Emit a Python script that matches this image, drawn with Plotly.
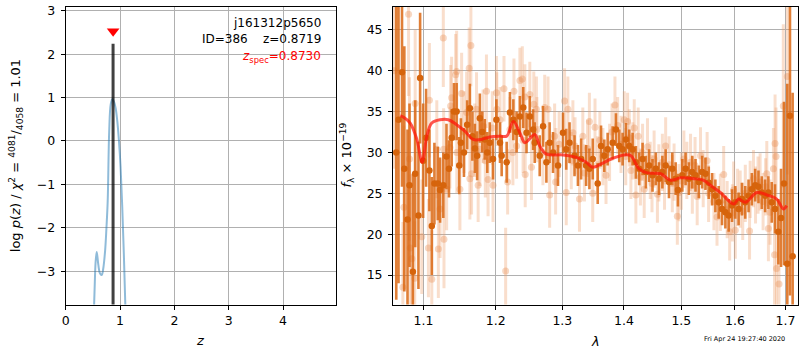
import numpy as np
import plotly.graph_objects as go

# ---------------- left panel: p(z) ----------------
pz_z = [0.52, 0.535, 0.55, 0.571, 0.60, 0.63, 0.663, 0.69, 0.726, 0.75, 0.773, 0.80,
        0.829, 0.86, 0.89, 0.92, 0.95, 0.98, 1.01, 1.04, 1.07, 1.10]
pz_logp = [-3.9, -3.3, -2.8, -2.56, -2.85, -3.05, -3.09, -2.95, -2.52, -2.0, -1.38, 0.2,
           0.85, 0.97, 0.9, 0.75, 0.45, 0.0, -0.6, -1.5, -2.6, -3.9]
z_best = 0.8719
z_best_logp = 2.24
z_spec = 0.8730
z_spec_marker_y = 2.53

# ---------------- right panel: spectrum ----------------
# binned (dark) points
bin_lam = [1.0646, 1.0675, 1.0720, 1.0750, 1.0791, 1.0817, 1.0861, 1.0891, 1.0934, 1.0956,
           1.0996, 1.1035, 1.1079, 1.1111, 1.1146, 1.1191, 1.1222, 1.1266, 1.1309, 1.1343,
           1.1380, 1.1411, 1.1448, 1.1484, 1.1507, 1.1549, 1.1594, 1.1632, 1.1667, 1.1702,
           1.1734, 1.1772, 1.1807, 1.1842, 1.1878, 1.1913, 1.1960, 1.2009, 1.2061, 1.2085,
           1.2158, 1.2206, 1.2256, 1.2304, 1.2353, 1.2403, 1.2452, 1.2501, 1.2551, 1.2575,
           1.2651, 1.2702, 1.2753, 1.2803, 1.2855, 1.2932, 1.3010, 1.3061, 1.3113, 1.3192,
           1.3246, 1.3297, 1.3377, 1.3430, 1.3484, 1.3565, 1.3619, 1.3673, 1.3728, 1.3811,
           1.3866, 1.3921, 1.3977, 1.4033, 1.4089, 1.4146, 1.4202, 1.4259, 1.4317, 1.4374,
           1.4430, 1.4489, 1.4546, 1.4603, 1.4662, 1.4720, 1.4779, 1.4838, 1.4898, 1.4939,
           1.5018, 1.5077, 1.5137, 1.5198, 1.5258, 1.5319, 1.5381, 1.5442, 1.5503, 1.5565,
           1.5627, 1.5689, 1.5753, 1.5816, 1.5879, 1.5943, 1.6006, 1.6070, 1.6134, 1.6198,
           1.6263, 1.6328, 1.6393, 1.6458, 1.6524, 1.6590, 1.6656, 1.6723, 1.6789, 1.6857,
           1.6911, 1.6972, 1.7039, 1.7094, 1.7149]
bin_flux = [30.0, 34.0, 39.8, 28.0, 21.8, 26.0, 15.4, 27.4, 22.3, 39.1,
            29.0, 31.8, 27.8, 21.0, 26.2, 26.2, 25.4, 26.0, 29.5, 28.0,
            31.8, 35.0, 35.0, 28.4, 31.2, 30.0, 33.4, 35.4, 32.0, 30.5,
            29.6, 34.2, 32.5, 31.6, 30.0, 31.2, 29.2, 34.0, 31.2, 29.6,
            28.8, 34.9, 34.0, 32.5, 34.4, 35.5, 32.4, 34.4, 32.8, 31.2,
            29.6, 33.2, 28.8, 31.2, 30.0, 28.4, 32.4, 30.4, 31.2, 29.6,
            28.4, 29.2, 28.4, 28.0, 29.2, 26.2, 30.8, 29.6, 30.4, 31.2,
            32.8, 30.8, 30.4, 31.6, 30.8, 30.4, 28.8, 28.0, 29.2, 27.6,
            28.4, 27.2, 28.0, 26.8, 27.6, 28.4, 26.4, 28.0, 26.8, 25.4,
            27.2, 28.0, 26.8, 27.6, 27.2, 26.4, 27.6, 27.4, 26.3, 25.5,
            24.7, 23.9, 23.1, 22.7, 22.3, 23.5, 23.9, 23.1, 24.3, 23.9,
            24.7, 25.5, 26.0, 25.8, 25.1, 24.7, 25.1, 23.9, 23.1, 20.3,
            22.0, 26.2, 16.4, 34.5, 17.3]
bin_err = [18, 20, 14, 15, 11, 10, 12, 9, 9, 8,
           7, 6, 5, 6, 5, 4.5, 4, 4, 4, 3.5,
           3.5, 3.5, 3.5, 3.5, 3, 3, 3, 3, 3, 3,
           3, 3, 2.5, 2.5, 2.5, 2.5, 2.5, 2.5, 2.5, 2.5,
           2.5, 2.5, 2.5, 2.5, 2.5, 2.5, 2.5, 2.5, 2.5, 2.5,
           2.5, 2.5, 2.5, 2.5, 2.5, 2.5, 2.5, 2.5, 2.5, 2.5,
           2.5, 2.5, 2.5, 2.5, 2.5, 2.5, 2.5, 2, 2, 2,
           2, 2, 2, 2, 2, 2, 2, 2, 2, 2,
           2, 2, 2, 2, 2, 2, 2, 2, 2, 2,
           2, 2, 2, 2, 2, 2, 2, 2, 2, 2,
           2, 2, 2, 2, 2, 2, 2, 2, 2, 2,
           2, 2, 2, 2, 2, 2, 2, 2.5, 3, 4,
           6, 10, 22, 22, 20]

# individual (light) points
raw_lam = [1.0620, 1.0731, 1.0744, 1.0805, 1.0817, 1.0826, 1.0848, 1.0885, 1.0891, 1.0978,
           1.1066, 1.1079, 1.1111, 1.1178, 1.1199, 1.1222, 1.1266, 1.1270, 1.1275, 1.1311,
           1.1356, 1.1365, 1.1379, 1.1434, 1.1448, 1.1450, 1.1493, 1.1517, 1.1550, 1.1586,
           1.1622, 1.1632, 1.1646, 1.1655, 1.1700, 1.1725, 1.1748, 1.1772, 1.1818, 1.1850,
           1.1866, 1.1889, 1.1950, 1.1960, 1.2009, 1.2015, 1.2061, 1.2119, 1.2143, 1.2172,
           1.2206, 1.2250, 1.2265, 1.2304, 1.2353, 1.2389, 1.2400, 1.2427, 1.2432, 1.2501,
           1.2526, 1.2561, 1.2601, 1.2608, 1.2700, 1.2727, 1.2778, 1.2803, 1.2880, 1.2895,
           1.2900, 1.2950, 1.3035, 1.3061, 1.3087, 1.3140, 1.3166, 1.3200, 1.3271, 1.3324,
           1.3350, 1.3400, 1.3430, 1.3484, 1.3521, 1.3560, 1.3600, 1.3650, 1.3701, 1.3760,
           1.3800, 1.3849, 1.3894, 1.3950, 1.4005, 1.4030, 1.4061, 1.4090, 1.4117, 1.4150,
           1.4174, 1.4202, 1.4242, 1.4280, 1.4317, 1.4345, 1.4402, 1.4450, 1.4480, 1.4517,
           1.4575, 1.4600, 1.4662, 1.4700, 1.4720, 1.4780, 1.4838, 1.4870, 1.4928, 1.4957,
           1.5000, 1.5046, 1.5100, 1.5167, 1.5200, 1.5250, 1.5289, 1.5350, 1.5400, 1.5473,
           1.5500, 1.5600, 1.5658, 1.5721, 1.5784, 1.5850, 1.5898, 1.5950, 1.5974, 1.6006,
           1.6050, 1.6101, 1.6150, 1.6200, 1.6283, 1.6295, 1.6360, 1.6400, 1.6450, 1.6491,
           1.6550, 1.6600, 1.6624, 1.6656, 1.6689, 1.6757, 1.6780, 1.6790, 1.6810, 1.6820,
           1.6870, 1.6957, 1.7039]
raw_flux = [40.0, 13.5, 23.3, 46.9, 29.2, 18.3, 17.0, 14.6, 36.0, 19.7,
            18.3, 36.4, 14.5, 30.4, 18.2, 23.1, 44.0, 30.4, 19.4, 25.5,
            30.6, 35.7, 36.7, 39.5, 39.9, 30.0, 25.5, 37.2, 32.5, 34.9,
            40.3, 26.8, 43.1, 27.4, 31.5, 35.3, 26.0, 30.4, 33.2, 29.0,
            37.5, 26.7, 33.0, 26.0, 37.3, 35.3, 34.0, 37.8, 15.5, 26.4,
            32.8, 30.0, 37.5, 30.8, 38.8, 39.0, 31.5, 36.8, 27.3, 37.1,
            28.2, 35.9, 35.3, 32.8, 30.0, 35.5, 35.3, 24.8, 32.0, 26.4,
            29.0, 31.0, 36.3, 25.1, 35.3, 29.0, 32.4, 30.8, 24.3, 32.0,
            27.5, 30.5, 33.8, 25.0, 33.1, 28.5, 31.5, 29.5, 27.2, 30.0,
            32.5, 35.8, 33.3, 31.0, 34.0, 29.5, 33.8, 31.8, 27.8, 30.2,
            33.0, 24.8, 32.0, 27.0, 30.0, 25.5, 30.7, 27.8, 26.2, 29.2,
            24.9, 27.5, 28.8, 26.5, 30.8, 28.5, 26.2, 27.6, 22.2, 25.1,
            26.5, 29.2, 27.8, 28.8, 26.0, 28.4, 24.6, 29.6, 26.8, 29.0,
            25.0, 24.0, 22.1, 23.9, 27.3, 23.0, 20.3, 22.6, 25.4, 20.5,
            24.5, 24.3, 22.8, 25.0, 20.4, 25.5, 26.8, 24.8, 26.0, 26.4,
            24.0, 25.8, 27.4, 20.7, 22.7, 28.0, 17.5, 31.1, 29.5, 15.8,
            13.9, 35.7, 39.3]
raw_err = [12, 8, 10, 10, 10, 9, 8, 7, 9, 7,
           6, 7, 6, 6, 6, 6, 6, 5, 6, 5,
           5, 5, 5, 5, 5, 5, 5, 5, 5, 5,
           5, 5, 5, 5, 4.5, 4.5, 4.5, 4.5, 4.5, 4.5,
           4.5, 4.5, 4.5, 4.5, 4.5, 4.5, 4, 4, 5.3, 4,
           4, 4, 4, 4, 4, 4, 4, 4, 4, 4,
           4, 4, 4, 4, 4, 4, 4, 4, 4, 4,
           4, 4, 4, 4, 4, 3.5, 4, 3.5, 4, 3.5,
           3.5, 3.5, 3.5, 3.5, 3.5, 3.5, 3.5, 3.5, 3.5, 3.5,
           3.5, 3.5, 3.5, 3.5, 3.5, 3.5, 3.5, 3.5, 3.5, 3.5,
           3.5, 3.5, 3.5, 3.5, 3.5, 3.5, 3.5, 3.5, 3.5, 3.5,
           3.5, 3.5, 3.5, 3.5, 3.5, 3.5, 3.5, 3.5, 3.5, 3.5,
           3.5, 3.5, 3.5, 3.5, 3.5, 3.5, 3.5, 3.5, 3.5, 3.5,
           3.5, 3.5, 3.5, 3.5, 3.5, 3.5, 3.5, 3.5, 3.5, 3.5,
           3.5, 3.5, 3.5, 3.5, 3.5, 3.5, 3.5, 3.5, 3.5, 3.5,
           3.5, 3.5, 4, 4, 4, 5, 7, 6, 6, 7,
           8, 10, 12]

# model
model_lam = [1.0698, 1.0740, 1.0826, 1.0913, 1.0983, 1.1045, 1.1111, 1.1222, 1.1334, 1.1448,
             1.1562, 1.1677, 1.1795, 1.1913, 1.2057, 1.2158, 1.2256, 1.2353, 1.2427, 1.2576,
             1.2651, 1.2753, 1.3010, 1.3219, 1.3378, 1.3486, 1.3621, 1.3784, 1.4005, 1.4118,
             1.4258, 1.4402, 1.4633, 1.4809, 1.4987, 1.5228, 1.5410, 1.5534, 1.5722, 1.5974,
             1.6070, 1.6199, 1.6428, 1.6625, 1.6825, 1.6958, 1.7027]
model_flux = [34.5, 34.3, 33.6, 31.6, 28.8, 32.0, 33.6, 34.0, 34.0, 33.4,
              32.6, 31.6, 31.6, 31.9, 32.0, 32.0, 33.8, 32.4, 31.2, 32.2,
              30.8, 29.8, 29.7, 29.4, 28.8, 28.2, 28.6, 29.2, 29.7, 29.6,
              28.0, 27.5, 27.4, 26.6, 26.9, 26.8, 26.6, 26.0, 25.1, 23.7,
              24.3, 23.9, 25.1, 24.8, 24.3, 23.1, 23.5]

lam_ticks = [1.1, 1.2, 1.3, 1.4, 1.5, 1.6, 1.7]

# ---------------- figure ----------------
W, H = 800, 350
FONT = "DejaVu Sans"
fig = go.Figure()

fig.add_trace(go.Scatter(x=pz_z, y=pz_logp, mode="lines", line=dict(color="rgba(31,119,180,0.5)", width=2, shape="spline"),
                         xaxis="x", yaxis="y", hoverinfo="skip"))
fig.add_trace(go.Scatter(x=[z_best, z_best], y=[-10, z_best_logp], mode="lines",
                         line=dict(color="rgba(0,0,0,0.75)", width=3), xaxis="x", yaxis="y", hoverinfo="skip"))
fig.add_trace(go.Scatter(x=[z_spec], y=[z_spec_marker_y], mode="markers",
                         marker=dict(symbol="triangle-down", color="red", size=11, line=dict(width=0)),
                         xaxis="x", yaxis="y", hoverinfo="skip"))

fig.add_trace(go.Scatter(x=raw_lam, y=raw_flux, mode="markers",
                         marker=dict(color="rgba(232,140,80,0.35)", size=7, line=dict(width=0)),
                         error_y=dict(type="data", array=raw_err, visible=True, thickness=3, width=0,
                                      color="rgba(238,160,110,0.35)"),
                         xaxis="x2", yaxis="y2", hoverinfo="skip"))
fig.add_trace(go.Scatter(x=bin_lam, y=bin_flux, mode="markers",
                         marker=dict(color="rgb(214,100,12)", size=6.5, line=dict(width=0)),
                         error_y=dict(type="data", array=bin_err, visible=True, thickness=2.6, width=0,
                                      color="rgba(218,105,20,0.85)"),
                         xaxis="x2", yaxis="y2", hoverinfo="skip"))
fig.add_trace(go.Scatter(x=model_lam, y=model_flux, mode="lines",
                         line=dict(color="rgba(255,20,10,0.72)", width=3, shape="spline"),
                         xaxis="x2", yaxis="y2", hoverinfo="skip"))

ax_common = dict(showline=True, mirror=True, linecolor="black", linewidth=1, ticks="outside",
                 ticklen=4, tickcolor="black", showgrid=True, gridcolor="#b0b0b0", gridwidth=1,
                 zeroline=False, tickfont=dict(family=FONT, size=12.5, color="black"))

y0, y1 = 1 - 304 / H, 1 - 3 / H
fig.update_layout(
    width=W, height=H, margin=dict(l=0, r=0, t=0, b=0),
    paper_bgcolor="white", plot_bgcolor="white", showlegend=False,
    font=dict(family=FONT, size=12, color="black"),
    xaxis=dict(domain=[62 / W, 334 / W], range=[0, 4.98], tickvals=[0, 1, 2, 3, 4], anchor="y", **ax_common),
    yaxis=dict(domain=[y0, y1], range=[-3.77, 3.09], tickvals=[-3, -2, -1, 0, 1, 2, 3], anchor="x",
               ticklabelstandoff=3, ticklabeloverflow="allow", **ax_common),
    xaxis2=dict(domain=[391 / W, 798 / W], type="log", range=[np.log10(1.0605), np.log10(1.726)],
                tickvals=lam_ticks, ticktext=[f"{v:.1f}" for v in lam_ticks], anchor="y2", **ax_common),
    yaxis2=dict(domain=[y0, y1], range=[11.4, 47.8], tickvals=[15, 20, 25, 30, 35, 40, 45], anchor="x2",
                ticklabelstandoff=3, ticklabeloverflow="allow", **ax_common),
)

ann = [
    dict(text="j161312p5650", x=0.949, y=1 - (19 - 3) / 301, xanchor="right"),
    dict(text="ID=386&nbsp;&nbsp;&nbsp;&nbsp;z=0.8719", x=0.949, y=1 - (35 - 3) / 301, xanchor="right"),
    dict(text="<i>z</i><sub>spec</sub>=0.8730", x=0.949, y=1 - (54 - 3) / 301, xanchor="right", color="red"),
]
for a in ann:
    fig.add_annotation(text=a["text"], x=a["x"], y=a["y"], xref="x domain", yref="y domain",
                       xanchor=a["xanchor"], yanchor="middle", showarrow=False,
                       font=dict(family=FONT, size=12, color=a.get("color", "black")))

fig.add_annotation(text="log <i>p</i>(<i>z</i>) / <i>χ</i><sup>2</sup> = <sup>4081</sup>/<sub>4058</sub> = 1.01",
                   x=12 / W, y=1 - 153 / H, xref="paper", yref="paper", textangle=-90, showarrow=False,
                   xanchor="center", yanchor="middle", font=dict(family=FONT, size=13))
fig.add_annotation(text="<i>f</i><sub>λ</sub> × 10<sup>−19</sup>",
                   x=345 / W, y=1 - 153 / H, xref="paper", yref="paper", textangle=-90, showarrow=False,
                   xanchor="center", yanchor="middle", font=dict(family=FONT, size=13))
fig.add_annotation(text="<i>z</i>", x=197 / W, y=1 - 340 / H, xref="paper", yref="paper", showarrow=False,
                   xanchor="center", yanchor="middle", font=dict(family=FONT, size=13))
fig.add_annotation(text="<i>λ</i>", x=594 / W, y=1 - 341 / H, xref="paper", yref="paper", showarrow=False,
                   xanchor="center", yanchor="middle", font=dict(family=FONT, size=13))
fig.add_annotation(text="Fri Apr 24 19:27:40 2020", x=744 / W, y=1 - 339 / H, xref="paper", yref="paper",
                   showarrow=False, xanchor="center", yanchor="middle", font=dict(family=FONT, size=6.5))

fig.write_html("out.html")
